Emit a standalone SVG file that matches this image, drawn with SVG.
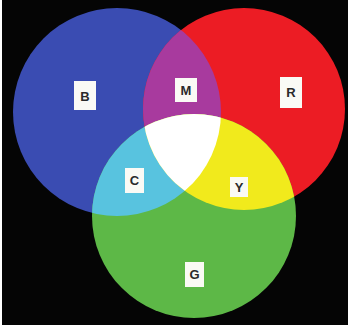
<svg xmlns="http://www.w3.org/2000/svg" width="348" height="329" viewBox="0 0 348 329">
<style>
.lb{fill:#fafaf5}
.tx{font-family:"Liberation Sans",Arial,sans-serif;font-weight:bold;font-size:13px;fill:#2a2a2a;text-anchor:middle}
</style>
<defs>
<clipPath id="cB"><circle cx="117" cy="112" r="104"/></clipPath>
<clipPath id="cR"><circle cx="244" cy="109" r="101"/></clipPath>
<clipPath id="cBR" clip-path="url(#cB)"><circle cx="244" cy="109" r="101"/></clipPath>
</defs>
<rect x="0" y="0" width="348" height="329" fill="#ffffff"/>
<rect x="2" y="0" width="346" height="325" fill="#050505"/>
<g id="circles">
<circle id="blue" cx="117" cy="112" r="104" fill="#3a4cb2"/>
<circle id="red" cx="244" cy="109" r="101" fill="#ec1c24"/>
<circle id="green" cx="194" cy="216" r="102" fill="#5db847"/>
<circle id="magenta" cx="244" cy="109" r="101" fill="#a83a9e" clip-path="url(#cB)"/>
<circle id="cyan" cx="194" cy="216" r="102" fill="#58c3df" clip-path="url(#cB)"/>
<circle id="yellow" cx="194" cy="216" r="102" fill="#f1ea1c" clip-path="url(#cR)"/>
<circle id="white" cx="194" cy="216" r="102" fill="#ffffff" clip-path="url(#cBR)"/>
</g>
<g id="label-B"><rect class="lb" x="74" y="81" width="22" height="29"/><text class="tx" x="85" y="101">B</text></g>
<g id="label-M"><rect class="lb" x="175" y="78" width="22" height="24"/><text class="tx" x="186" y="95">M</text></g>
<g id="label-R"><rect class="lb" x="280" y="77" width="22" height="31"/><text class="tx" x="291" y="97">R</text></g>
<g id="label-C"><rect class="lb" x="125" y="168" width="19" height="25"/><text class="tx" x="134.5" y="185">C</text></g>
<g id="label-Y"><rect class="lb" x="230" y="177" width="18" height="20"/><text class="tx" x="239" y="192">Y</text></g>
<g id="label-G"><rect class="lb" x="185" y="262" width="19" height="25"/><text class="tx" x="194.5" y="279">G</text></g>
</svg>
